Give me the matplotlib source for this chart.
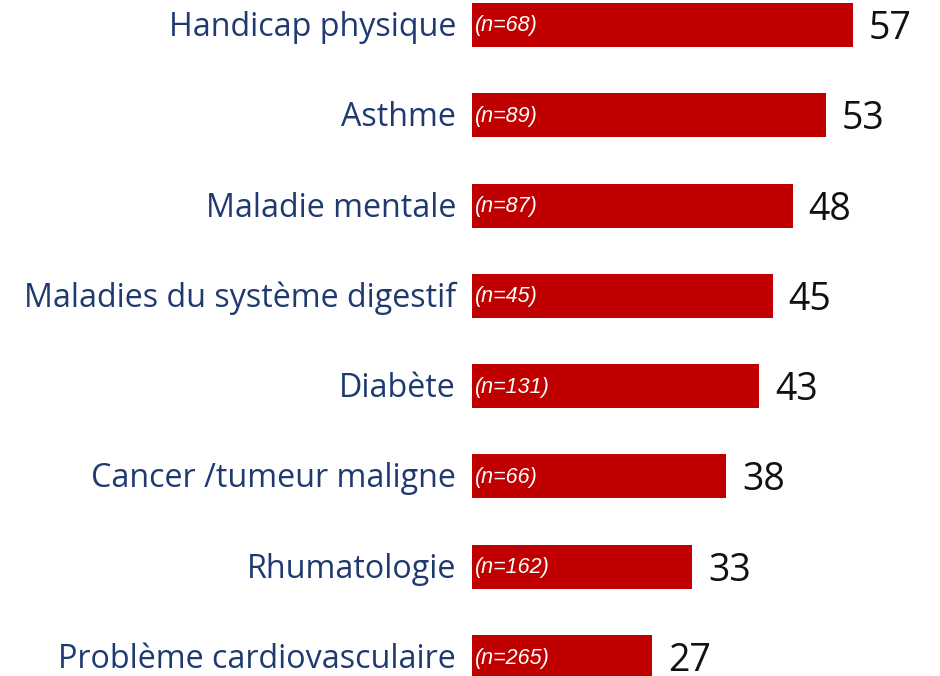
import matplotlib
matplotlib.use('Agg')
import matplotlib.pyplot as plt

# données
categories = ['Handicap physique', 'Asthme', 'Maladie mentale',
              'Maladies du système digestif', 'Diabète',
              'Cancer /tumeur maligne', 'Rhumatologie',
              'Problème cardiovasculaire']
values = [57, 53, 48, 45, 43, 38, 33, 27]
n_labels = ['(n=68)', '(n=89)', '(n=87)', '(n=45)', '(n=131)',
            '(n=66)', '(n=162)', '(n=265)']

plt.rcParams['font.family'] = ['Open Sans', 'DejaVu Sans']

W, H = 940, 676
fig = plt.figure(figsize=(W / 100, H / 100), dpi=100)
ax = fig.add_axes([472 / W, 0, 1 - 472 / W, 1])

red = '#C00000'
navy = '#1F3A70'
px_unit = 6.68          # pixels par point de pourcentage
row = 90.3              # pixels entre deux barres

pos = list(range(len(categories)))
ax.barh(pos, values, height=44 / row, color=red)

ax.set_xlim(0, (W - 472) / px_unit)
ax.set_ylim((H - 25) / row, -25 / row)
ax.axis('off')

for i, (cat, v, n) in enumerate(zip(categories, values, n_labels)):
    # textes posés sur la ligne de base pour coller au modèle
    ax.text(-2.4, i + 11 / row, cat, ha='right', va='baseline', fontsize=23.2, color=navy)
    ax.text(0.45, i + 0.01, n, ha='left', va='center', fontsize=15.5, color='white',
            style='italic', family=['Liberation Sans', 'DejaVu Sans'])
    ax.text(v + 2.4, i + 14 / row, str(v), ha='left', va='baseline', fontsize=27, color='#111111')

fig.savefig('out.png', dpi=100)
